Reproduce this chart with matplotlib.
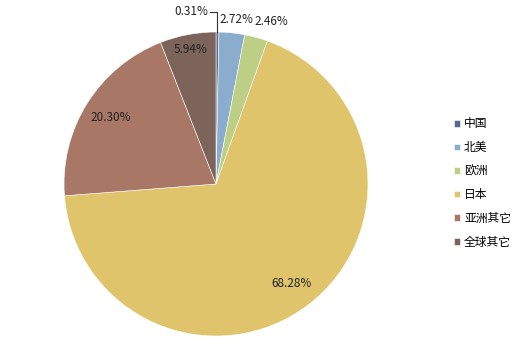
import matplotlib
matplotlib.use("Agg")
import matplotlib.pyplot as plt
import numpy as np

regions = ["中国", "北美", "欧洲", "日本", "亚洲其它", "全球其它"]
shares = [0.31, 2.72, 2.46, 68.28, 20.30, 5.94]
labels = ["0.31%", "2.72%", "2.46%", "68.28%", "20.30%", "5.94%"]

colors = ["#58698f", "#8aaccd", "#bccf85", "#dfc46c", "#a87766", "#7c645b"]
label_dist = [None, 1.09, 1.11, 0.82, 0.82, 0.90]
label_shift = [(0, 0), (2, 0), (8, 0), (0, 0), (0, 0), (0, 0)]  # points

plt.rcParams["font.family"] = ["Noto Sans CJK SC", "DejaVu Sans"]

fig = plt.figure(figsize=(5.28, 3.55), dpi=100)
cx, cy, r = 216, 355 - 184, 152
ax = fig.add_axes([(cx - r) / 528, (cy - r) / 355, 2 * r / 528, 2 * r / 355])

wedges, _ = ax.pie(shares, colors=colors, startangle=90, counterclock=False,
                   wedgeprops=dict(edgecolor="white", linewidth=0.4))
ax.set_xlim(-1, 1)
ax.set_ylim(-1, 1)

for w, lab, d, sh in zip(wedges, labels, label_dist, label_shift):
    mid = np.deg2rad((w.theta1 + w.theta2) / 2)
    if d is None:
        # tiny slice: label with a leader line
        top = (np.cos(mid), np.sin(mid))
        ax.plot([top[0], top[0], top[0] - 0.05], [top[1], 1.13, 1.13],
                color="#333333", lw=0.8, clip_on=False)
        ax.text(top[0] - 0.06, 1.135, lab, ha="right", va="center",
                fontsize=8.5, color="#222222")
        continue
    ax.annotate(lab, xy=(d * np.cos(mid), d * np.sin(mid)), xytext=sh,
                textcoords="offset points", ha="center", va="center",
                fontsize=8.5, color="#222222", annotation_clip=False)

ax.legend(wedges, regions, loc="center left", bbox_to_anchor=(454 / 528, 1 - 183 / 355),
          bbox_transform=fig.transFigure, frameon=False, fontsize=8.5,
          handlelength=0.5, handleheight=0.5, handletextpad=0.35,
          labelspacing=0.9, borderaxespad=0, borderpad=0)

fig.savefig("out.png", dpi=100)
